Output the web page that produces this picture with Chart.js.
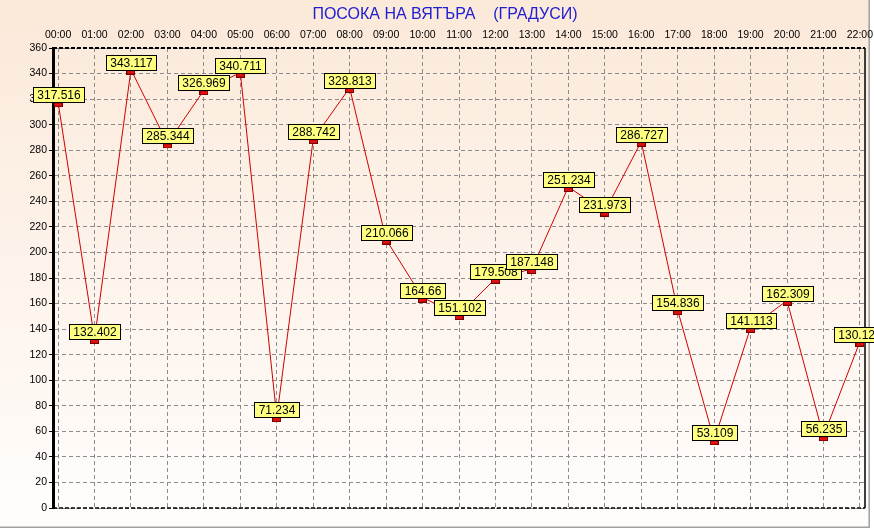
<!DOCTYPE html>
<html>
<head>
<meta charset="utf-8">
<script src="https://cdn.jsdelivr.net/npm/chart.js@4/dist/chart.umd.min.js"></script>
<style>
  html, body { margin: 0; padding: 0; background: #fff; overflow: hidden; }
  canvas { display: block; }
</style>
</head>
<body>
<canvas id="windChart" width="874" height="529"></canvas>
<script>
const chartTitle = 'ПОСОКА НА ВЯТЪРА    (ГРАДУСИ)';
const hours = ['00:00', '01:00', '02:00', '03:00', '04:00', '05:00', '06:00', '07:00',
  '08:00', '09:00', '10:00', '11:00', '12:00', '13:00', '14:00', '15:00',
  '16:00', '17:00', '18:00', '19:00', '20:00', '21:00', '22:00'];
const direction = [317.516, 132.402, 343.117, 285.344, 326.969, 340.711, 71.234, 288.742,
  328.813, 210.066, 164.66, 151.102, 179.508, 187.148, 251.234, 231.973,
  286.727, 154.836, 53.109, 141.113, 162.309, 56.235, 130.129];
const yMin = 0;
const yMax = 360;
const yStep = 20;

// small red bar used as point marker (sits a bit below the point, like the original)
const marker = document.createElement('canvas');
marker.width = 9;
marker.height = 10;
const mctx = marker.getContext('2d');
mctx.fillStyle = '#7a0000';
mctx.fillRect(0, 5, 9, 5);
mctx.fillStyle = '#e01010';
mctx.fillRect(1, 6, 7, 3);

const decor = {
  id: 'decor',
  beforeDraw(chart) {
    const {ctx, width, height} = chart;
    ctx.save();
    ctx.fillStyle = '#fff';
    ctx.fillRect(0, 0, width, height);
    const g = ctx.createLinearGradient(0, 0, 0, 527);
    g.addColorStop(0, '#fbe9d9');
    g.addColorStop(1, '#fffdfc');
    ctx.fillStyle = g;
    ctx.fillRect(0, 0, 869, 527);
    ctx.strokeStyle = '#a0a0a0';
    ctx.lineWidth = 1.5;
    ctx.beginPath();
    ctx.moveTo(0, 527.2);
    ctx.lineTo(869.2, 527.2);
    ctx.lineTo(869.2, 0);
    ctx.stroke();
    ctx.restore();
  },
  beforeDatasetsDraw(chart) {
    const {ctx, chartArea: a} = chart;
    ctx.save();
    ctx.strokeStyle = '#000';
    ctx.setLineDash([4, 2]);
    ctx.lineWidth = 2;
    ctx.beginPath();
    ctx.moveTo(a.left, a.top);
    ctx.lineTo(a.right, a.top);
    ctx.stroke();
    ctx.lineWidth = 1.5;
    ctx.beginPath();
    ctx.moveTo(a.left, a.bottom);
    ctx.lineTo(a.right, a.bottom);
    ctx.stroke();
    ctx.setLineDash([]);
    ctx.beginPath();
    ctx.moveTo(a.right, a.top);
    ctx.lineTo(a.right, a.bottom);
    ctx.stroke();
    ctx.restore();
  },
  afterDatasetsDraw(chart) {
    const {ctx} = chart;
    const meta = chart.getDatasetMeta(0);
    ctx.save();
    ctx.font = '12px "Liberation Sans", Arial, sans-serif';
    ctx.textAlign = 'center';
    ctx.textBaseline = 'middle';
    meta.data.forEach((pt, i) => {
      const txt = String(direction[i]);
      const w = Math.round(ctx.measureText(txt).width) + 8;
      const h = 15;
      const x = Math.round(pt.x - w / 2) + 0.5;
      const y = Math.round(pt.y) - h + 0.5;
      ctx.fillStyle = '#ffff80';
      ctx.fillRect(x, y, w, h);
      ctx.strokeStyle = '#000';
      ctx.lineWidth = 1;
      ctx.strokeRect(x, y, w, h);
      ctx.fillStyle = '#000';
      ctx.fillText(txt, x + w / 2, y + h / 2 + 0.5);
    });
    ctx.restore();
  },
  afterDraw(chart) {
    const {ctx} = chart;
    ctx.save();
    ctx.font = '16px "Liberation Sans", Arial, sans-serif';
    ctx.fillStyle = '#2020d0';
    ctx.textAlign = 'center';
    ctx.textBaseline = 'middle';
    ctx.fillText(chartTitle, 445, 15);
    ctx.restore();
  }
};

new Chart(document.getElementById('windChart'), {
  type: 'line',
  data: {
    datasets: [{
      data: direction.map((v, i) => ({x: i, y: v})),
      borderColor: '#d00000',
      borderWidth: 1,
      pointStyle: marker,
      pointRadius: 5,
      tension: 0,
      fill: false
    }]
  },
  options: {
    responsive: false,
    animation: false,
    devicePixelRatio: 1,
    layout: {padding: {left: 0, top: 0, right: 9, bottom: 21}},
    plugins: {
      legend: {display: false},
      tooltip: {enabled: false},
      title: {display: false}
    },
    scales: {
      x: {
        type: 'linear',
        position: 'top',
        min: -0.14,
        max: 22.14,
        afterBuildTicks: s => { s.ticks = hours.map((_, i) => ({value: i})); },
        afterFit: s => { s.height = 48; s.paddingLeft = 0; s.paddingRight = 0; },
        ticks: {
          callback: v => hours[v],
          color: '#000',
          font: {family: '"Liberation Sans", Arial', size: 10.5},
          padding: 7,
          maxRotation: 0,
          autoSkip: false
        },
        grid: {color: '#8c8c8c', lineWidth: 1, drawTicks: false},
        border: {display: false, dash: [4, 3]}
      },
      y: {
        min: yMin,
        max: yMax,
        afterFit: s => { s.width = 53; s.paddingTop = 0; s.paddingBottom = 0; },
        ticks: {
          stepSize: yStep,
          color: '#000',
          font: {family: '"Liberation Sans", Arial', size: 10.5},
          padding: 2
        },
        grid: {color: '#8c8c8c', lineWidth: 1, tickColor: '#000', tickLength: 4},
        border: {display: true, color: '#000', width: 3, dash: [4, 3]}
      }
    }
  },
  plugins: [decor]
});
</script>
</body>
</html>
